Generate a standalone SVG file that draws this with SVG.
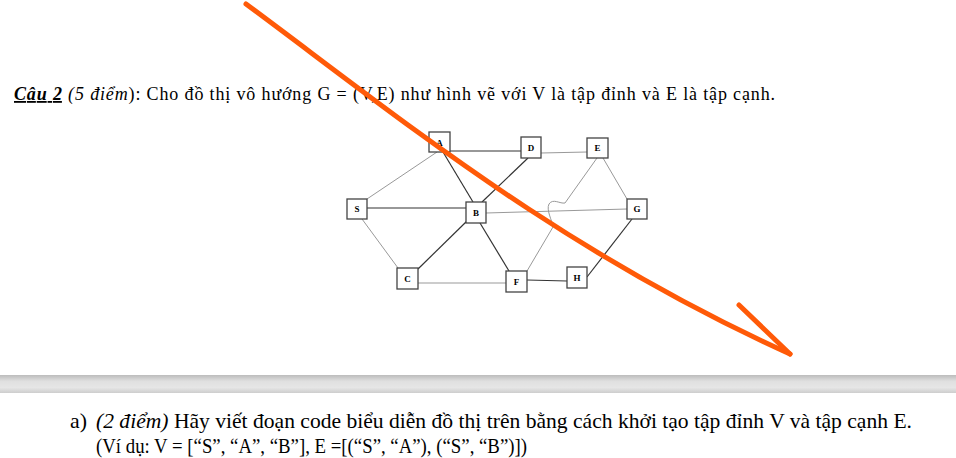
<svg xmlns="http://www.w3.org/2000/svg" width="956" height="458" viewBox="0 0 956 458">
<defs>
<linearGradient id="bar" x1="0" y1="0" x2="0" y2="1">
<stop offset="0" stop-color="#bcbcbc"/>
<stop offset="0.35" stop-color="#e0e0e0"/>
<stop offset="0.7" stop-color="#e6e6e6"/>
<stop offset="1" stop-color="#cdcdcd"/>
</linearGradient>
<style>
.t{font-family:"Liberation Serif","Times New Roman",serif;fill:#000}
.dk{stroke:#333;stroke-width:1.2;fill:none}
.gr{stroke:#999;stroke-width:1;fill:none}
.box{fill:#fff;stroke:#444;stroke-width:1.3}
.lb{font-family:"Liberation Serif","Times New Roman",serif;font-weight:bold;font-size:9px;text-anchor:middle;fill:#000}
.ink{stroke:#ff5a08;stroke-width:5;fill:none;stroke-linecap:round;stroke-linejoin:round}
</style>
</defs>
<rect width="956" height="458" fill="#fff"/>
<text class="t" x="14" y="100" font-size="18" textLength="761"><tspan font-weight="bold" font-style="italic" text-decoration="underline">Câu 2</tspan> <tspan font-style="italic">(5 điểm</tspan>): Cho đồ thị vô hướng G = (V,E) như hình vẽ với V là tập đỉnh và E là tập cạnh.</text>
<g id="edges">
<line class="dk" x1="450" y1="151" x2="521" y2="151"/>
<line class="gr" x1="437" y1="152" x2="367" y2="199"/>
<line class="dk" x1="443" y1="152" x2="473" y2="202"/>
<line class="dk" x1="528" y1="158" x2="482" y2="202"/>
<line class="gr" x1="541" y1="153" x2="587" y2="152"/>
<line class="gr" x1="603" y1="158" x2="627" y2="199"/>
<path class="gr" d="M597,158 L565,203 C560,204 553,198 549,204 C546,210 552,220 553,227 L527,271"/>
<line class="gr" x1="486" y1="213" x2="627" y2="209"/>
<line class="dk" x1="367" y1="208" x2="466" y2="208"/>
<line class="gr" x1="362" y1="219" x2="398" y2="268"/>
<line class="dk" x1="467" y1="221" x2="418" y2="269"/>
<line class="dk" x1="480" y1="223" x2="509" y2="271"/>
<line class="gr" x1="418" y1="283" x2="506" y2="283"/>
<line class="dk" x1="527" y1="280" x2="567" y2="281"/>
<line class="dk" x1="587" y1="277" x2="632" y2="219"/>
</g>
<g id="A"><rect class="box" x="429" y="132" width="21" height="20"/><text class="lb" x="439.5" y="146">A</text></g>
<g id="D"><rect class="box" x="521" y="137" width="20" height="21"/><text class="lb" x="531" y="151">D</text></g>
<g id="E"><rect class="box" x="587" y="138" width="21" height="20"/><text class="lb" x="597.5" y="151">E</text></g>
<g id="S"><rect class="box" x="347" y="199" width="20" height="20"/><text class="lb" x="357" y="212">S</text></g>
<g id="B"><rect class="box" x="466" y="202" width="20" height="21"/><text class="lb" x="476" y="216">B</text></g>
<g id="G"><rect class="box" x="627" y="199" width="20" height="20"/><text class="lb" x="637" y="212">G</text></g>
<g id="C"><rect class="box" x="397" y="268" width="21" height="21"/><text class="lb" x="407.5" y="282">C</text></g>
<g id="F"><rect class="box" x="506" y="271" width="21" height="21"/><text class="lb" x="516.5" y="285">F</text></g>
<g id="H"><rect class="box" x="567" y="267" width="20" height="21"/><text class="lb" x="577" y="281">H</text></g>
<g id="ink">
<path class="ink" d="M246,4 C400,118 560,250 790,354"/>
<path class="ink" d="M739,305 L790,354"/>
</g>
<rect x="0" y="375" width="956" height="18" fill="url(#bar)"/>
<text class="t" x="70" y="428" font-size="21" textLength="17" lengthAdjust="spacingAndGlyphs">a)</text>
<text class="t" x="96" y="428" font-size="21" textLength="816" lengthAdjust="spacingAndGlyphs"><tspan font-style="italic">(2 điểm)</tspan> Hãy viết đoạn code biểu diễn đồ thị trên bằng cách khởi tạo tập đỉnh V và tập cạnh E.</text>
<text class="t" x="96" y="453" font-size="21" textLength="431" lengthAdjust="spacingAndGlyphs">(Ví dụ: V = [“S”, “A”, “B”], E =[(“S”, “A”), (“S”, “B”)])</text>
</svg>
